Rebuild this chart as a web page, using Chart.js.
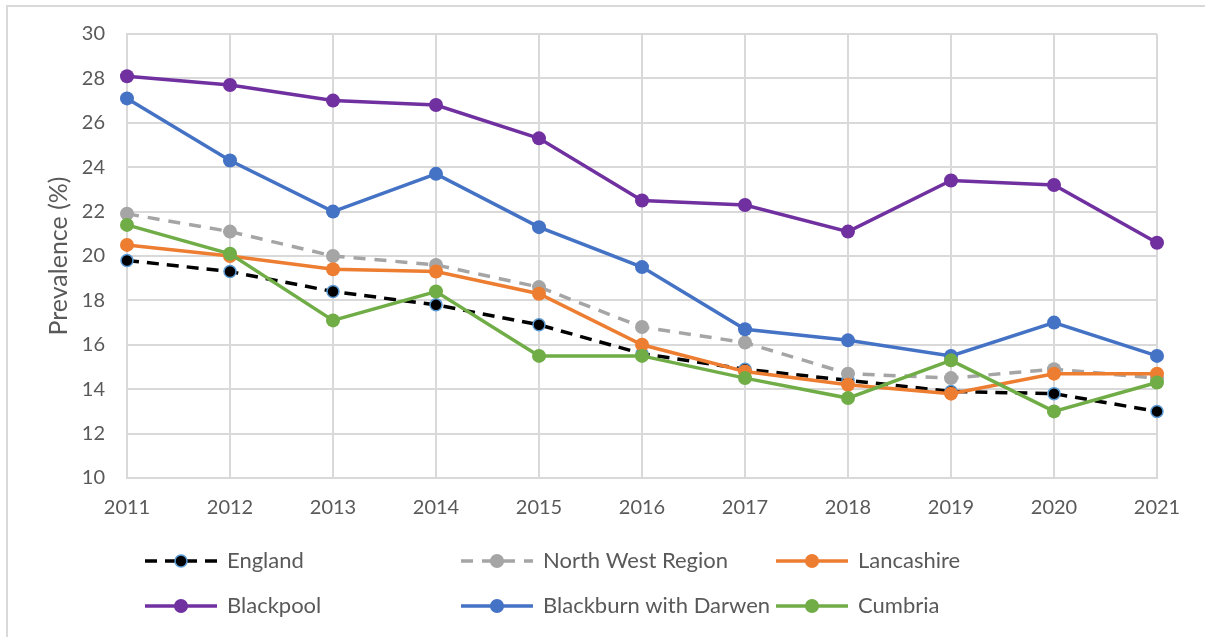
<!DOCTYPE html>
<html>
<head>
<meta charset="utf-8">
<script src="https://cdn.jsdelivr.net/npm/chart.js@4"></script>
<style>
    body { margin: 0; background: #fff; }
    #wrap { width: 1205px; height: 637px; }
</style>
</head>
<body>
<div id="wrap"><canvas id="myChart" width="1205" height="637"></canvas></div>
<script>
const years = ['2011', '2012', '2013', '2014', '2015', '2016', '2017', '2018', '2019', '2020', '2021'];

const england = [19.8, 19.3, 18.4, 17.8, 16.9, 15.6, 14.9, 14.4, 13.9, 13.8, 13.0];
const northWest = [21.9, 21.1, 20.0, 19.6, 18.6, 16.8, 16.1, 14.7, 14.5, 14.9, 14.5];
const lancashire = [20.5, 20.0, 19.4, 19.3, 18.3, 16.0, 14.8, 14.2, 13.8, 14.7, 14.7];
const blackpool = [28.1, 27.7, 27.0, 26.8, 25.3, 22.5, 22.3, 21.1, 23.4, 23.2, 20.6];
const blackburn = [27.1, 24.3, 22.0, 23.7, 21.3, 19.5, 16.7, 16.2, 15.5, 17.0, 15.5];
const cumbria = [21.4, 20.1, 17.1, 18.4, 15.5, 15.5, 14.5, 13.6, 15.3, 13.0, 14.3];

const yTicks = [10, 12, 14, 16, 18, 20, 22, 24, 26, 28, 30];

const textColor = '#595959';
const gridColor = '#d9d9d9';
const fontFamily = 'Lato, "Liberation Sans", sans-serif';

function series(label, data, color, order, extra) {
    return Object.assign({
        label: label,
        data: data,
        borderColor: color,
        backgroundColor: color,
        pointBackgroundColor: color,
        pointBorderColor: color,
        borderWidth: 3.5,
        pointRadius: 7,
        pointBorderWidth: 0,
        tension: 0,
        order: order
    }, extra || {});
}

// where each legend entry goes: column x and row y
const legendSlots = [
    { x: 145, y: 561 }, { x: 461, y: 561 }, { x: 776, y: 561 },
    { x: 145, y: 606 }, { x: 461, y: 606 }, { x: 776, y: 606 }
];

const framePlugin = {
    id: 'frame',
    beforeDraw(chart) {
        const ctx = chart.ctx;
        ctx.save();
        ctx.strokeStyle = '#d9d9d9';
        ctx.lineWidth = 2;
        ctx.strokeRect(7, 6, 1400, 800);
        ctx.restore();
    }
};

const legendPlugin = {
    id: 'gridLegend',
    afterDraw(chart) {
        const ctx = chart.ctx;
        ctx.save();
        chart.data.datasets.forEach((ds, i) => {
            const slot = legendSlots[i];
            const x0 = slot.x, x1 = slot.x + 72, y = slot.y;
            ctx.strokeStyle = ds.borderColor;
            ctx.lineWidth = ds.borderWidth;
            ctx.setLineDash(ds.borderDash || []);
            ctx.beginPath();
            ctx.moveTo(x0, y);
            ctx.lineTo(x1, y);
            ctx.stroke();
            ctx.setLineDash([]);
            ctx.beginPath();
            ctx.arc((x0 + x1) / 2, y, ds.pointRadius, 0, Math.PI * 2);
            ctx.fillStyle = ds.pointBackgroundColor;
            ctx.fill();
            if (ds.pointBorderWidth) {
                ctx.lineWidth = ds.pointBorderWidth;
                ctx.strokeStyle = ds.pointBorderColor;
                ctx.stroke();
            }
            ctx.fillStyle = textColor;
            ctx.font = '22px ' + fontFamily;
            ctx.textBaseline = 'middle';
            ctx.fillText(ds.label, x0 + 82, y);
        });
        ctx.restore();
    }
};

const ctx = document.getElementById('myChart').getContext('2d');
let chart = new Chart(ctx, {
    type: 'line',
    data: {
        labels: years,
        datasets: [
            series('England', england, '#000000', 6, {
                borderDash: [12, 8],
                pointBorderColor: '#5b9bd5',
                pointBorderWidth: 1.5,
                pointRadius: 6
            }),
            series('North West Region', northWest, '#a5a5a5', 5, { borderDash: [12, 9] }),
            series('Lancashire', lancashire, '#ed7d31', 4),
            series('Blackpool', blackpool, '#7030a0', 3),
            series('Blackburn with Darwen', blackburn, '#4472c4', 2),
            series('Cumbria', cumbria, '#70ad47', 1)
        ]
    },
    options: {
        responsive: false,
        animation: false,
        layout: { padding: { top: 34, right: 48, bottom: 114, left: 0 } },
        plugins: {
            legend: { display: false },
            tooltip: { enabled: false }
        },
        scales: {
            x: {
                offset: false,
                grid: { color: gridColor, lineWidth: 2, tickLength: 0 },
                border: { color: gridColor, width: 2 },
                ticks: { color: textColor, font: { family: fontFamily, size: 20 }, padding: 18, maxRotation: 0 },
                afterFit(scale) { scale.height = 45; }
            },
            y: {
                min: 10,
                max: 30,
                grid: { color: gridColor, lineWidth: 2, tickLength: 0 },
                border: { color: gridColor, width: 2 },
                afterBuildTicks(scale) { scale.ticks = yTicks.map(v => ({ value: v })); },
                ticks: { color: textColor, font: { family: fontFamily, size: 20 }, padding: 22 },
                title: {
                    display: true,
                    text: 'Prevalence (%)',
                    color: textColor,
                    font: { family: fontFamily, size: 25 },
                    padding: { top: 44, bottom: 0 }
                },
                afterFit(scale) { scale.width = 127; }
            }
        }
    },
    plugins: [framePlugin, legendPlugin]
});
</script>
</body>
</html>
